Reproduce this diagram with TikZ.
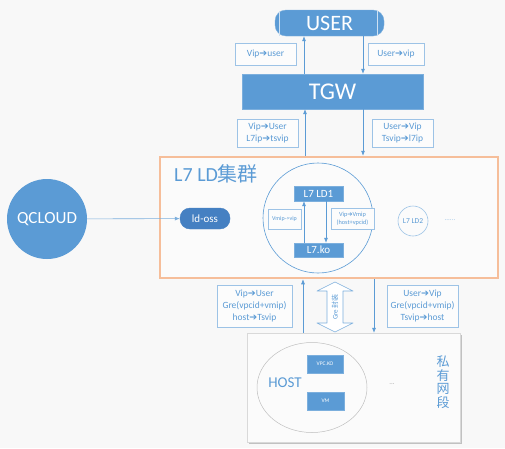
\documentclass[tikz,border=0pt]{standalone}
\usepackage{fontspec}
\setmainfont{Carlito}
\newfontfamily\cjk{Noto Sans CJK SC}
\newfontfamily\symf{DejaVu Sans}
\usetikzlibrary{shapes.geometric,shapes.arrows,arrows.meta,shadows}
\definecolor{mblue}{HTML}{5B9BD5}
\definecolor{lblue}{HTML}{9DC3E6}
\definecolor{dblue}{HTML}{4580C2}
\definecolor{orng}{HTML}{F6BE9A}
\definecolor{bgc}{HTML}{F8F8F8}
\newcommand{\ra}{{\symf➔}}
\tikzset{
  bluebox/.style={draw=mblue!80!white, fill=mblue, text=white, inner sep=0pt},
  lbl/.style={draw=lblue, fill=white!60!bgc, text=mblue, inner sep=0pt, align=center, font=\fontsize{9.5}{12.5}\selectfont},
  arr/.style={draw=mblue, line width=0.6pt, -{Latex[length=5pt,width=4pt]}},
}
\begin{document}
\begin{tikzpicture}[x=1pt,y=-1pt]
\fill[bgc] (0,0) rectangle (505,448);
\useasboundingbox (0,0) rectangle (505,448);

% USER and TGW
\node[bluebox, rounded corners=11pt, minimum width=109pt, minimum height=26pt, font=\fontsize{22}{24}\selectfont] (user) at (329.5,23) {USER};
\draw[white!70!mblue, line width=0.6pt] (279,10.5) -- (279,35.5) (377,10.5) -- (377,35.5);
\node[bluebox, minimum width=181pt, minimum height=35pt, font=\fontsize{24}{26}\selectfont] (tgw) at (332.5,91.5) {TGW};

% cluster
\node[draw=orng, line width=2.5pt, fill=white!40!bgc, minimum width=338pt, minimum height=121pt, drop shadow={shadow xshift=1pt, shadow yshift=-1pt, opacity=0.2}] (cl) at (329,217.5) {};
\node[anchor=west, text=mblue, font=\fontsize{20}{22}\selectfont, inner sep=0pt] (cltitle) at (174,174) {L7 LD{\cjk 集群}};

% QCLOUD, ld-oss
\node[circle, fill=mblue, minimum size=80pt, text=white, font=\fontsize{17}{19}\selectfont, inner sep=0pt] (qc) at (47,219) {QCLOUD};
\node[draw=dblue, fill=dblue, rounded corners=10pt, minimum width=50pt, minimum height=21pt, text=white, font=\fontsize{11}{13}\selectfont, inner sep=0pt] (oss) at (205,218.5) {ld-oss};
\draw[arr, draw=mblue!80!white] (qc) -- (oss);

% big circle
\node[circle, draw=mblue, line width=0.6pt, minimum size=110pt, inner sep=0pt] (ld) at (318,218) {};
\node[bluebox, minimum width=49pt, minimum height=15pt, font=\fontsize{11}{13}\selectfont] (ld1) at (318.5,193.5) {L7 LD1};
\node[bluebox, minimum width=49pt, minimum height=14pt, font=\fontsize{11}{13}\selectfont] (ko) at (318.5,250) {L7.ko};
\coordinate (kx1) at (304,0);
\coordinate (kx2) at (326,0);
\draw[arr] (ko.north -| kx1) -- (ld1.south -| kx1);
\draw[arr] (ld1.south -| kx2) -- (ko.north -| kx2);
\node[lbl, minimum width=33pt, minimum height=20pt, font=\fontsize{6}{7}\selectfont] (il) at (284.5,219) {Vmip-{>}vip};
\node[lbl, minimum width=43pt, minimum height=21pt, font=\fontsize{6.3}{8}\selectfont] (ir) at (352.5,218.5) {Vip\ra Vmip\\(host+vpcid)};

% LD2
\node[circle, draw=lblue, line width=0.6pt, minimum size=30pt, inner sep=0pt, text=mblue, font=\fontsize{7.5}{8}\selectfont] (ld2) at (413,221) {L7 LD2};
\node[text=lblue, font=\fontsize{7}{8}\selectfont, inner sep=0pt] (dots1) at (450,220) {......};

% arrows USER-TGW
\coordinate (ux1) at (304,0);
\coordinate (ux2) at (363,0);
\draw[arr] (tgw.north -| ux1) -- (user.south -| ux1);
\draw[arr] (user.south -| ux2) -- (tgw.north -| ux2);
\node[lbl, minimum width=61pt, minimum height=22pt] (l1) at (265.5,54) {Vip\ra user};
\node[lbl, minimum width=56pt, minimum height=22pt] (l2) at (396,54) {User\ra vip};

% arrows TGW-cluster
\coordinate (tx1) at (305,0);
\coordinate (tx2) at (363,0);
\draw[arr] (cl.north -| tx1) -- (tgw.south -| tx1);
\draw[arr] (tgw.south -| tx2) -- (cl.north -| tx2);
\node[lbl, minimum width=61pt, minimum height=28pt] (l3) at (267.5,133) {Vip\ra User\\L7ip\ra tsvip};
\node[lbl, minimum width=61pt, minimum height=28pt] (l4) at (402.5,133) {User\ra Vip\\Tsvip\ra l7ip};

% HOST area
\node[draw=black!15, fill=white!50!bgc, minimum width=213pt, minimum height=109pt, drop shadow={shadow xshift=1.5pt, shadow yshift=-2pt, opacity=0.45}] (hb) at (353.5,387.5) {};
\node[ellipse, draw=black!25, line width=0.5pt, fill=white!50!bgc, minimum width=110pt, minimum height=90pt, inner sep=0pt] (he) at (312,387.5) {};
\node[text=mblue, font=\fontsize{15}{17}\selectfont, inner sep=0pt] (ht) at (285,383) {HOST};
\node[bluebox, minimum width=36pt, minimum height=18pt, font=\fontsize{5.5}{6}\selectfont] (vpc) at (325,364) {VPC.KO};
\node[bluebox, minimum width=37pt, minimum height=18pt, font=\fontsize{5.5}{6}\selectfont] (vm) at (325.5,401) {VM};
\node[text=black!35, font=\fontsize{7}{8}\selectfont, inner sep=0pt] (dots2) at (392,384) {...};
\node[text=mblue, font=\cjk\fontsize{13}{13.5}\selectfont, align=center, inner sep=0pt] (priv) at (443,382) {私\\有\\网\\段};

% arrows cluster-HOST
\coordinate (hx1) at (303,0);
\coordinate (hx2) at (374,0);
\draw[arr] (hb.north -| hx1) -- (cl.south -| hx1);
\draw[arr] (cl.south -| hx2) -- (hb.north -| hx2);
\node[lbl, minimum width=75pt, minimum height=42pt, font=\fontsize{9.5}{12}\selectfont] (l5) at (254.5,306) {Vip\ra User\\Gre(vpcid+vmip)\\host\ra Tsvip};
\node[lbl, minimum width=71pt, minimum height=42pt, font=\fontsize{9.5}{12}\selectfont] (l6) at (422.5,306) {User\ra Vip\\Gre(vpcid+vmip)\\Tsvip\ra host};
% Gre double arrow
\draw[draw=mblue!80!white, fill=white, line width=0.6pt, line join=round]
  (335,282) -- (353,291) -- (343,291) -- (343,323) -- (353,323) -- (335,332)
  -- (317,323) -- (327,323) -- (327,291) -- (317,291) -- cycle;
\node[rotate=90, text=mblue, font=\fontsize{7}{8}\selectfont, inner sep=0pt] (gre) at (335,307) {Gre {\cjk 封装}};
\end{tikzpicture}
\end{document}
